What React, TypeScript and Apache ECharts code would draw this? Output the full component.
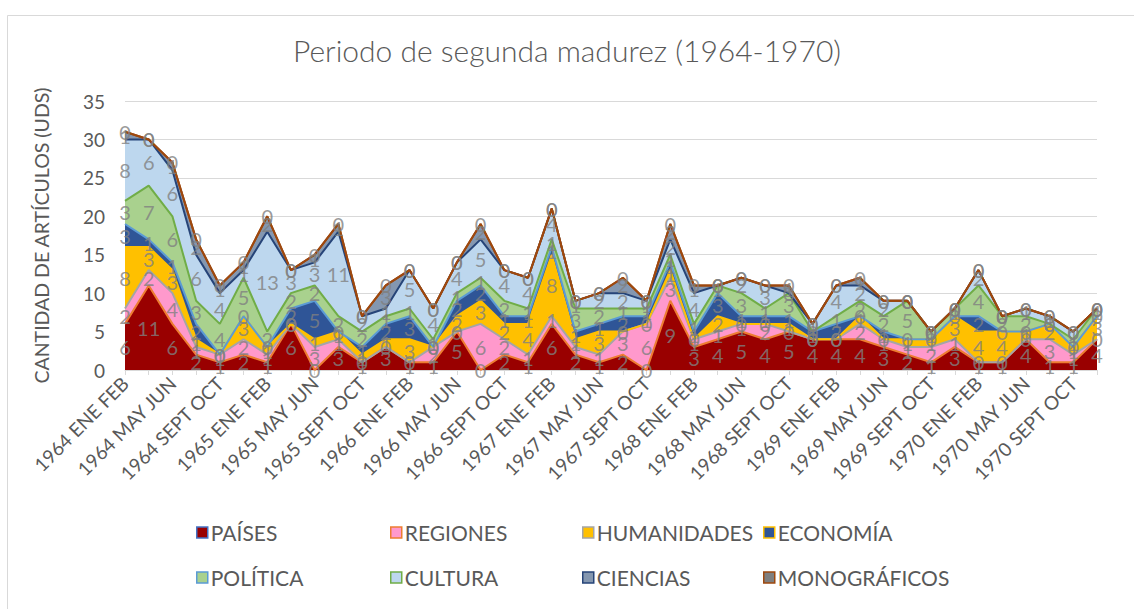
import React, { useEffect, useRef } from "react";
import * as echarts from "echarts";

const years = ["1964", "1965", "1966", "1967", "1968", "1969", "1970"];
const periods = ["ENE FEB", "MAR ABR", "MAY JUN", "JUL AGO", "SEPT OCT", "NOV DIC"];
const categories: string[] = [];
years.forEach((y) => periods.forEach((p) => categories.push(`${y} ${p}`)));

const paises = [6, 11, 6, 2, 1, 2, 1, 6, 0, 3, 1, 3, 1, 1, 5, 0, 2, 1, 6, 2, 1, 2, 0, 9, 3, 4, 5, 4, 5, 4, 4, 4, 3, 2, 1, 3, 1, 1, 4, 1, 1, 4];
const regiones = [2, 2, 4, 1, 1, 2, 1, 0, 3, 1, 0, 0, 0, 2, 0, 6, 2, 1, 1, 1, 1, 3, 6, 3, 1, 1, 1, 2, 0, 0, 0, 2, 1, 1, 2, 1, 0, 0, 0, 3, 1, 0];
const humanidades = [8, 3, 3, 1, 0, 3, 1, 0, 1, 1, 1, 1, 3, 0, 2, 3, 2, 4, 8, 1, 3, 0, 0, 1, 0, 2, 0, 0, 1, 0, 0, 1, 0, 1, 1, 3, 4, 4, 1, 2, 1, 3];
const economia = [3, 1, 1, 2, 0, 0, 0, 2, 5, 0, 1, 2, 3, 0, 2, 2, 1, 1, 1, 1, 1, 2, 1, 1, 1, 3, 1, 1, 1, 1, 2, 0, 1, 0, 0, 0, 2, 0, 0, 0, 0, 0];
const politica = [3, 7, 6, 3, 4, 5, 2, 2, 2, 2, 2, 1, 1, 1, 1, 1, 2, 1, 1, 3, 2, 1, 1, 1, 1, 1, 3, 1, 3, 0, 1, 2, 2, 5, 1, 1, 4, 2, 2, 0, 1, 1];
const cultura = [8, 6, 6, 6, 4, 1, 13, 3, 3, 11, 2, 1, 5, 4, 4, 5, 4, 4, 4, 1, 2, 2, 1, 2, 4, 0, 2, 3, 0, 1, 4, 2, 2, 0, 0, 0, 2, 0, 1, 1, 1, 0];
const ciencias = [1, 0, 1, 2, 1, 1, 2, 0, 1, 1, 0, 3, 0, 0, 0, 2, 0, 0, 0, 0, 0, 2, 0, 2, 1, 0, 0, 0, 1, 0, 0, 1, 0, 0, 0, 0, 0, 0, 0, 0, 0, 0];
const monograficos = [0, 0, 0, 0, 0, 0, 0, 0, 0, 0, 0, 0, 0, 0, 0, 0, 0, 0, 0, 0, 0, 0, 0, 0, 0, 0, 0, 0, 0, 0, 0, 0, 0, 0, 0, 0, 0, 0, 0, 0, 0, 0];

const seriesNames = ["PAÍSES", "REGIONES", "HUMANIDADES", "ECONOMÍA", "POLÍTICA", "CULTURA", "CIENCIAS", "MONOGRÁFICOS"];
const seriesValues = [paises, regiones, humanidades, economia, politica, cultura, ciencias, monograficos];
const yTicks = [0, 5, 10, 15, 20, 25, 30, 35];

const fills = ["#990000", "#FF99CC", "#FFC000", "#2F5597", "#A9D18E", "#BDD7EE", "#8497B0", "#7F7F7F"];
const borders = ["#4472C4", "#ED7D31", "#A5A5A5", "#FFC000", "#5B9BD5", "#70AD47", "#264478", "#9E480E"];

const FONT = "Lato, 'Noto Sans', sans-serif";
const GREY = "#595959";

export default function App() {
  const ref = useRef<HTMLDivElement>(null);
  useEffect(() => {
    if (!ref.current) return;
    const chart = echarts.init(ref.current, undefined, { renderer: "svg" });

    const areaSeries = seriesValues.map((vals, s) => ({
      name: seriesNames[s],
      type: "line",
      stack: "areas",
      data: vals,
      symbol: "none",
      silent: true,
      lineStyle: { width: 0 },
      areaStyle: { color: fills[s], opacity: 1 },
      itemStyle: { color: fills[s], borderColor: borders[s] },
      z: 2,
    }));

    const lineSeries = seriesValues.map((vals, s) => ({
      name: seriesNames[s] + " borde",
      type: "line",
      stack: "lines",
      data: vals,
      symbol: "none",
      silent: true,
      lineStyle: { width: 2, color: s < 7 ? borders[s + 1] : borders[7] },
      z: 3,
    }));

    const labelSeries = seriesValues.map((vals, s) => {
      const pts = vals.map((v, i) => {
        let base = 0;
        for (let k = 0; k < s; k++) base += seriesValues[k][i];
        return [i, base + v / 2, v];
      });
      return {
        name: seriesNames[s] + " etiquetas",
        type: "scatter",
        data: pts,
        symbolSize: 1,
        silent: true,
        itemStyle: { color: "rgba(0,0,0,0)" },
        label: {
          show: true,
          position: "inside",
          formatter: (p: any) => String(p.value[2]),
          color: "#808080",
          fontSize: 20,
          fontFamily: FONT,
        },
        z: 4,
      };
    });

    const colX = [196, 390, 582, 763];
    const rowY = [522, 567];
    const legends = seriesNames.map((n, k) => ({
      data: [n],
      left: colX[k % 4],
      top: rowY[Math.floor(k / 4)],
      padding: 0,
      icon: "rect",
      itemWidth: 11,
      itemHeight: 11,
      itemGap: 0,
      selectedMode: false,
      textStyle: { color: GREY, fontSize: 21, fontFamily: FONT, padding: [0, 0, 0, -2] },
      itemStyle: { color: fills[k], borderColor: borders[k], borderWidth: 1.5 },
      lineStyle: { width: 0 },
    }));

    chart.setOption({
      animation: false,
      backgroundColor: "#ffffff",
      title: {
        text: "Periodo de segunda madurez (1964-1970)",
        left: "center",
        top: 30,
        textStyle: { color: GREY, fontSize: 30, fontWeight: 300, fontFamily: FONT },
      },
      graphic: [
        {
          type: "rect",
          shape: { x: 7.5, y: 15.5, width: 1140, height: 610 },
          style: { fill: "none", stroke: "#D9D9D9", lineWidth: 1 },
          silent: true,
        },
      ],
      legend: legends,
      grid: { left: 125, right: 37, top: 101, bottom: 239 },
      xAxis: {
        type: "category",
        data: categories,
        boundaryGap: false,
        axisLine: { lineStyle: { color: "#D9D9D9", width: 1 } },
        axisTick: { show: true, interval: 0, length: 5, lineStyle: { color: "#D9D9D9" } },
        axisLabel: { interval: 1, rotate: 45, color: GREY, fontSize: 19, fontFamily: FONT, margin: 10 },
        splitLine: { show: false },
      },
      yAxis: {
        type: "value",
        min: yTicks[0],
        max: yTicks[yTicks.length - 1],
        interval: 5,
        name: "CANTIDAD DE ARTÍCULOS (UDS)",
        nameLocation: "middle",
        nameGap: 74,
        nameTextStyle: { color: GREY, fontSize: 19.5, fontFamily: FONT },
        axisLine: { show: false },
        axisTick: { show: false },
        axisLabel: { color: GREY, fontSize: 19, fontFamily: FONT, margin: 20 },
        splitLine: { lineStyle: { color: "#D9D9D9", width: 1 } },
      },
      series: [...areaSeries, ...lineSeries, ...labelSeries],
    });
    return () => chart.dispose();
  }, []);
  return (
    <div
      ref={ref}
      style={{ position: "absolute", left: 0, top: 0, width: 1134, height: 609 }}
    />
  );
}
